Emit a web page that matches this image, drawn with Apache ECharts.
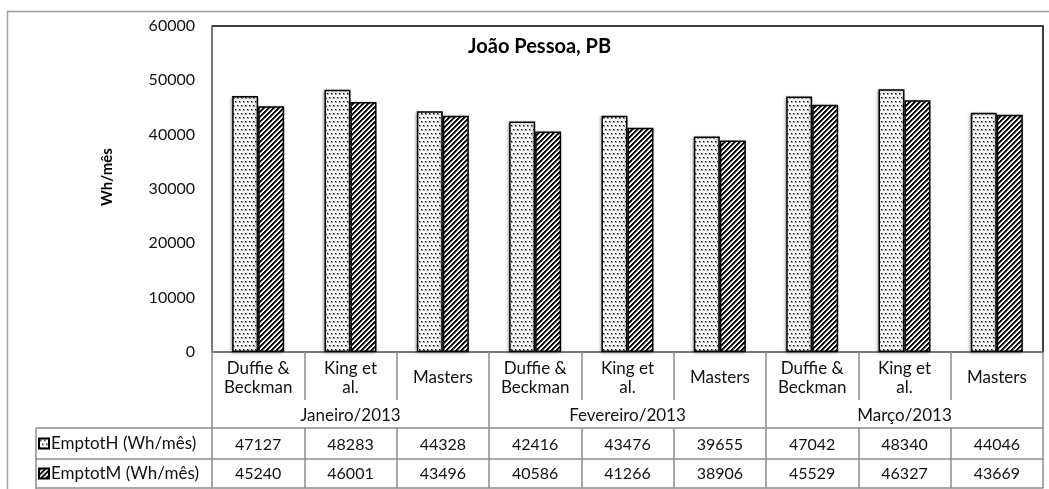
<!DOCTYPE html>
<html>
<head>
<meta charset="utf-8">
<script src="https://cdn.jsdelivr.net/npm/echarts@6/dist/echarts.min.js"></script>
<style>
html,body{margin:0;padding:0;background:#fff;}
#chart{width:1049px;height:489px;}
</style>
</head>
<body>
<div id="chart"></div>
<script>
// ---- data ----
const methods = ['Duffie &\nBeckman', 'King et\nal.', 'Masters', 'Duffie &\nBeckman', 'King et\nal.', 'Masters', 'Duffie &\nBeckman', 'King et\nal.', 'Masters'];
const months = ['Janeiro/2013', 'Fevereiro/2013', 'Março/2013'];
const seriesNames = ['EmptotH (Wh/mês)', 'EmptotM (Wh/mês)'];
const emptotH = [47127, 48283, 44328, 42416, 43476, 39655, 47042, 48340, 44046];
const emptotM = [45240, 46001, 43496, 40586, 41266, 38906, 45529, 46327, 43669];
const yTicks = {min: 0, max: 60000, interval: 10000};

// ---- patterns ----
function dotPattern() {
  const c = document.createElement('canvas');
  c.width = 4; c.height = 8;
  const g = c.getContext('2d');
  g.fillStyle = '#fff'; g.fillRect(0, 0, 4, 8);
  g.fillStyle = '#9a9a9a';
  g.fillRect(1, 1, 2, 2);
  g.fillRect(3, 5, 1, 2); g.fillRect(0, 5, 1, 2);
  g.fillStyle = '#000';
  g.fillRect(1, 1, 1, 1);
  g.fillRect(3, 5, 1, 1);
  return c;
}
function stripePattern() {
  const c = document.createElement('canvas');
  c.width = 5; c.height = 5;
  const g = c.getContext('2d');
  g.fillStyle = '#fff'; g.fillRect(0, 0, 5, 5);
  for (let x = 0; x < 5; x++) for (let y = 0; y < 5; y++) {
    const k = (x + y) % 5;
    if (k < 2) { g.fillStyle = '#000'; g.fillRect(x, y, 1, 1); }
    else if (k === 2) { g.fillStyle = '#666'; g.fillRect(x, y, 1, 1); }
  }
  return c;
}

const FONT = 'Lato, "Open Sans", sans-serif';
const GRAY = '#8c8c8c';
const TXT = '#111';
const chart = echarts.init(document.getElementById('chart'), null, {renderer: 'canvas'});

const gridTop = 26, gridBottomY = 352, chartH = 489;
const tableAxis = (data, offset, margin, tickLen, fontSize) => ({
  type: 'category', gridIndex: 0, position: 'bottom', offset: offset,
  data: data,
  axisLine: {show: true, lineStyle: {color: GRAY, width: 1.5}},
  axisTick: {show: true, inside: true, length: tickLen, lineStyle: {color: GRAY, width: 1.5}},
  axisLabel: {inside: true, margin: margin, verticalAlign: 'middle', color: TXT, fontSize: fontSize, fontFamily: FONT, interval: 0},
  splitLine: {show: false}
});
const legendItem = (name, top) => ({
  orient: 'vertical', left: 38, top: top, padding: 0,
  itemWidth: 10, itemHeight: 10, icon: 'rect', itemGap: 0,
  textStyle: {fontFamily: FONT, fontSize: 17, color: TXT, padding: [0, 0, 0, -3]},
  data: [name]
});

const option = {
  backgroundColor: '#fff',
  animation: false,
  title: {
    text: 'João Pessoa, PB', left: 463, top: 32,
    textStyle: {fontFamily: FONT, fontWeight: 'bold', fontSize: 20, color: '#000'}
  },
  legend: [legendItem(seriesNames[0], 435), legendItem(seriesNames[1], 465)],
  grid: {
    left: 212, right: 6, top: gridTop, bottom: chartH - gridBottomY,
    show: true, borderColor: '#000', borderWidth: 1.5, backgroundColor: 'transparent'
  },
  xAxis: [
    {
      type: 'category', gridIndex: 0, position: 'bottom', data: methods,
      axisLine: {show: true, lineStyle: {color: GRAY, width: 1.5}},
      axisTick: {show: true, length: 48, lineStyle: {color: GRAY, width: 1.5}},
      axisLabel: {margin: 26, verticalAlign: 'middle', lineHeight: 19, color: TXT, fontSize: 17, fontFamily: FONT, interval: 0},
      splitLine: {show: false}
    },
    tableAxis(months, 76, 12, 76, 17),
    tableAxis(emptotH.map(String), 107, 14, 31, 16),
    tableAxis(emptotM.map(String), 136, 14, 29, 16)
  ],
  yAxis: {
    type: 'value', min: yTicks.min, max: yTicks.max, interval: yTicks.interval,
    axisLine: {show: true, lineStyle: {color: GRAY, width: 1.5}},
    axisTick: {show: false},
    splitLine: {show: false},
    axisLabel: {margin: 17, color: TXT, fontSize: 16, fontFamily: FONT, formatter: v => String(v)}
  },
  series: [
    {
      name: seriesNames[0], type: 'bar', xAxisIndex: 0, data: emptotH,
      barWidth: 26, barGap: '0%',
      itemStyle: {
        color: {image: dotPattern(), repeat: 'repeat'},
        borderColor: '#000', borderWidth: 1.5,
        shadowColor: 'rgba(0,0,0,0.3)', shadowBlur: 3, shadowOffsetX: -1, shadowOffsetY: 1
      }
    },
    {
      name: seriesNames[1], type: 'bar', xAxisIndex: 0, data: emptotM,
      barWidth: 26, barGap: '0%',
      itemStyle: {
        color: {image: stripePattern(), repeat: 'repeat'},
        borderColor: '#000', borderWidth: 1.5,
        shadowColor: 'rgba(0,0,0,0.3)', shadowBlur: 3, shadowOffsetX: -1, shadowOffsetY: 1
      }
    }
  ],
  graphic: [
    {type: 'rect', silent: true, z: -10, shape: {x: 7.5, y: 11.5, width: 1080, height: 520},
     style: {fill: null, stroke: '#a0a0a0', lineWidth: 1.5}},
    {type: 'text', silent: true, rotation: Math.PI / 2, x: 107, y: 177,
     style: {text: 'Wh/mês', font: 'bold 15px ' + FONT, fill: '#000', align: 'center', verticalAlign: 'middle'}},
    {type: 'line', silent: true, shape: {x1: 36, y1: 428, x2: 212, y2: 428}, style: {stroke: GRAY, lineWidth: 1.5}},
    {type: 'line', silent: true, shape: {x1: 36, y1: 459, x2: 212, y2: 459}, style: {stroke: GRAY, lineWidth: 1.5}},
    {type: 'line', silent: true, shape: {x1: 36, y1: 488, x2: 212, y2: 488}, style: {stroke: GRAY, lineWidth: 1.5}},
    {type: 'line', silent: true, shape: {x1: 36, y1: 428, x2: 36, y2: 489}, style: {stroke: GRAY, lineWidth: 1.5}}
  ]
};
chart.setOption(option);
</script>
</body>
</html>
